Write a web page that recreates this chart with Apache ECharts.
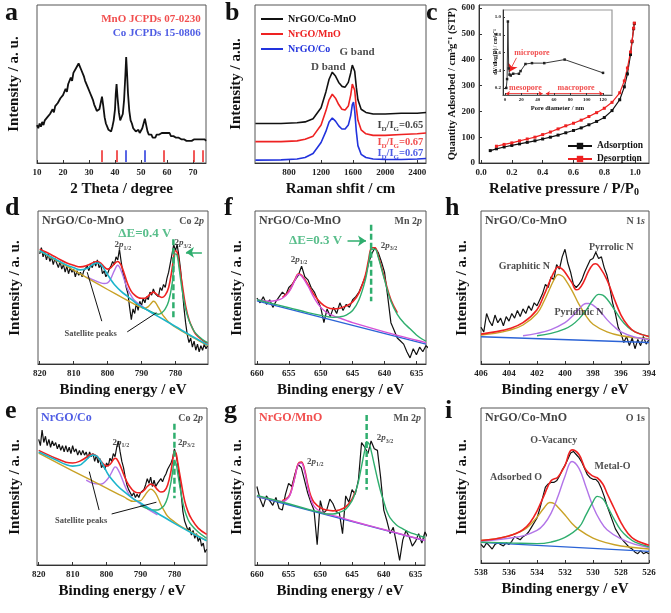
<!DOCTYPE html>
<html><head><meta charset="utf-8">
<script src="https://cdn.jsdelivr.net/npm/echarts@6/dist/echarts.min.js"></script>
<style>html,body{margin:0;padding:0;background:#fff}#c{width:671px;height:613px}</style>
</head><body><div id="c"></div><script>
const F = "'Liberation Serif','Times New Roman',serif";
const RED='#ee2222', BLUE='#2233dd', GREEN='#2fae6e', CYAN='#1db5cc', OLIVE='#c9a227', PURPLE='#b274e8', PINK='#d651d6', BGBLUE='#2b63d6';

// ---------- (a) XRD ----------
const xrdPattern = [[10,24],[10.5,22],[11,25],[11.5,23],[12,26],[12.5,24],[13,27],[13.5,26],[14,29],[14.5,28],[15,31],[15.5,30],[16,34],[16.5,32],[17,36],[17.5,35],[18,38],[18.5,37],[19,41],[19.5,40],[20,43],[20.5,42],[21,47],[21.5,45],[22,50],[22.5,49],[23,54],[23.5,52],[24,57],[24.5,56],[25,60],[25.5,59],[26,63],[26.5,61],[27,59],[27.5,58],[28,55],[28.5,52],[29,51],[29.5,48],[30,47],[30.5,44],[31,42],[31.5,40],[32,37],[32.5,35],[33,33],[33.5,32],[34,34],[34.5,38],[35,42],[35.5,36],[36,29],[36.5,25],[37,23],[37.5,21],[38,22],[38.5,20],[39,23],[39.5,27],[40,34],[40.3,44],[40.6,50],[41,41],[41.5,32],[42,27],[42.5,26],[43,31],[43.5,40],[44,56],[44.3,67],[44.6,58],[45,44],[45.5,33],[46,27],[46.5,25],[47,22],[47.5,21],[48,20],[48.5,19],[49,21],[49.5,19],[50,20],[50.5,22],[51,25],[51.5,28],[52,24],[52.5,20],[53,18],[53.5,17],[54,18],[54.5,16],[55,17],[55.5,16],[56,18],[56.5,17],[57,18],[57.5,17],[58,19],[58.5,18],[59,19],[59.5,18],[60,19],[60.5,18],[61,19],[61.5,17],[62,18],[62.5,17],[63,18],[63.5,16],[64,17],[64.5,16],[65,16],[65.5,15],[66,16],[66.5,15],[67,15],[67.5,14],[68,15],[68.5,14],[69,15],[69.5,14],[70,14],[70.5,15],[71,14],[71.5,15],[72,14],[72.5,15],[73,14],[73.5,15],[74,14],[74.5,15],[75,14]];
const mnoRefPeaks = [35.0, 40.6, 58.7, 70.1, 73.7];
const coRefPeaks = [44.3, 51.6];
const refStickTop = 8;
const xrdTicks = [10,20,30,40,50,60,70];

// ---------- (b) Raman ----------
const ramanCoMnO = [[380,25],[700,25],[900,25.5],[1000,26],[1100,28],[1200,35],[1260,45],[1300,53],[1340,57.5],[1380,55],[1420,51],[1460,48.5],[1500,48],[1540,51],[1570,57],[1590,62],[1605,62.5],[1620,58],[1640,48],[1660,40],[1700,34],[1760,32],[1850,31],[2000,31],[2200,31.5],[2400,31.5],[2510,32]];
const ramanMnO = [[380,13.5],[700,13.5],[900,14],[1000,15],[1100,17],[1200,24],[1260,33],[1300,40],[1340,43.5],[1380,41],[1420,37],[1460,34],[1500,33.5],[1540,36],[1570,43],[1590,50],[1605,51],[1620,46],[1640,35],[1660,27],[1700,21],[1760,18.5],[1850,17.5],[2000,17.5],[2200,18],[2400,18.5],[2510,19]];
const ramanCo = [[380,1.8],[700,2],[900,2.5],[1000,3.5],[1100,6],[1200,13],[1260,20],[1300,26],[1340,28.5],[1380,26.5],[1420,23.5],[1460,21.5],[1500,21.5],[1540,24],[1570,30],[1590,37],[1605,38.5],[1620,33],[1640,20],[1660,11],[1700,5.5],[1760,3.5],[1850,2.5],[2000,2.2],[2200,2.2],[2400,2.5],[2510,2.8]];
const ramanNames = ['NrGO/Co-MnO','NrGO/MnO','NrGO/Co'];
const ramanRatios = ['0.65','0.67','0.67'];
const ramanTicks = [800,1200,1600,2000,2400];

// ---------- (c) BET ----------
const betAdsorption = [[0.06,48],[0.1,55],[0.15,62],[0.2,68],[0.25,74],[0.3,80],[0.35,86],[0.4,93],[0.45,100],[0.5,108],[0.55,117],[0.6,126],[0.65,136],[0.7,148],[0.75,161],[0.8,176],[0.85,203],[0.9,245],[0.93,295],[0.95,345],[0.97,420],[0.98,470],[0.99,520],[0.995,540]];
const betDesorption = [[0.1,65],[0.15,72],[0.2,78],[0.25,86],[0.3,93],[0.35,100],[0.4,110],[0.45,120],[0.5,132],[0.55,144],[0.6,154],[0.65,166],[0.7,180],[0.75,195],[0.8,212],[0.85,235],[0.9,272],[0.93,318],[0.95,368],[0.97,430],[0.98,472],[0.99,522],[0.995,542]];
const poreDist = [[1.5,0.2],[2.5,0.3],[3.5,0.95],[4.5,0.42],[5.5,0.35],[7,0.34],[10,0.36],[17,0.36],[19,0.39],[25,0.47],[33,0.48],[48,0.48],[73,0.52],[120,0.37]];
const betXTicks = [0,0.2,0.4,0.6,0.8,1.0];
const betYTicks = [0,100,200,300,400,500,600];
const poreXTicks = [0,20,40,60,80,100,120];
const poreYTicks = [0.2,0.4,0.6,0.8,1.0];

// ---------- (d) Co 2p, NrGO/Co-MnO ----------
const d_raw = [[820,72],[819.5,76],[819,70],[818.5,73],[818,68],[817.5,72],[817,67],[816.5,70],[816,65],[815.5,69],[815,66],[814.5,63],[814,67],[813.5,62],[813,65],[812.5,60],[812,64],[811.5,59],[811,63],[810.5,60],[810,62],[809.5,57],[809,61],[808.5,58],[808,60],[807.5,57],[807,61],[806.5,60],[806,64],[805.5,61],[805,65],[804.5,63],[804,67],[803.5,64],[803,68],[802.5,63],[802,65],[801.5,59],[801,61],[800.5,57],[800,59],[799.5,62],[799,64],[798.5,67],[798,65],[797.5,70],[797,68],[796.5,75],[796,67],[795.5,60],[795,56],[794.5,50],[794,46],[793.5,37],[793,29],[792.5,36],[792,33],[791.5,40],[791,35],[790.5,41],[790,38],[789.5,43],[789,40],[788.5,44],[788,42],[787.5,47],[787,45],[786.5,49],[786,46],[785.5,47],[785,44],[784.5,50],[784,48],[783.5,52],[783,50],[782.5,56],[782,60],[781.5,66],[781,72],[780.5,78],[780,74],[779.5,78],[779,71],[778.5,62],[778,50],[777.5,37],[777,27],[776.5,19],[776,14],[775.5,17],[775,11],[774.5,15],[774,9],[773.5,13],[773,8],[772.5,12],[772,9],[771.5,13],[771,10],[770.5,12]];
const d_env = [[820,75],[818,73],[815,69.5],[812,66],[810,64.5],[808,63.5],[806,64.5],[804,66.5],[803,67],[802,66],[801,63.5],[800,62],[799,63],[798,65.5],[797,67],[796,64.5],[795,58.5],[794,52],[793,47.5],[792,45],[791,43.5],[790,43],[789,43],[788,44.5],[787,46.5],[786.5,47],[786,46.5],[785,44.5],[784,43.5],[783,45],[782,50],[781,62],[780.5,70],[780,74],[779.5,73],[779,67],[778,52],[777,38],[776,29],[775,23.5],[774,19.5],[772,15.5],[770.5,13.5]];
const d_sat803 = [[820,74],[815,68],[812,64.5],[810,63],[808,61.5],[806,62.5],[805,64],[804,65.5],[803,66],[802,65],[801,62],[800,58.5],[799,55],[798,52],[796,47.5],[794,44],[792,40.5],[790,37.5],[785,31],[780,24.5],[775,18],[770.5,12.5]];
const d_p12 = [[806,57],[804,54.8],[802,53],[801,52.6],[800,53],[799,56],[798,61],[797,64.5],[796,61],[795,54.5],[794,48.5],[793,44.5],[792,41.5],[790,38],[788,35],[786,32.3]];
const d_sat786 = [[820,74],[815,67.5],[810,61.4],[805,55],[800,48.7],[795,42.6],[792,39],[790,37],[789,36.5],[788,37.5],[787,40],[786.5,41],[786,40.5],[785,37],[784,33],[783,30],[782,27.5],[780,24],[775,17.5],[770.5,12]];
const d_p32 = [[790,37],[788,35],[786,33],[785,32.5],[784,33.5],[783,36],[782,41],[781,52],[780.5,63],[780,72],[779.5,71],[779,64],[778,48],[777,36],[776,28.5],[775,23.5],[774,20],[772,16],[770.5,14]];

// ---------- (e) Co 2p, NrGO/Co ----------
const e_raw = [[820,80],[819.5,76],[819,86],[818.5,78],[818,82],[817.5,76],[817,80],[816.5,75],[816,79],[815.5,76],[815,78],[814.5,74],[814,77],[813.5,73],[813,76],[812.5,72],[812,76],[811.5,72],[811,75],[810.5,71],[810,76],[809.5,72],[809,74],[808.5,70],[808,73],[807.5,70],[807,73],[806.5,70],[806,72],[805.5,68],[805,72],[804.5,69],[804,71],[803.5,66],[803,70],[802.5,65],[802,68],[801.5,62],[801,64],[800.5,61],[800,65],[799.5,63],[799,68],[798.5,66],[798,71],[797.5,69],[797,75],[796.5,79],[796,72],[795.5,66],[795,62],[794.5,56],[794,51],[793.5,48],[793,49],[792.5,44],[792,46],[791.5,43],[791,45],[790.5,43],[790,46],[789.5,45],[789,48],[788.5,51],[788,55],[787.5,52],[787,56],[786.5,50],[786,54],[785.5,50],[785,52],[784.5,51],[784,55],[783.5,53],[783,56],[782.5,58],[782,61],[781.5,62],[781,65],[780.5,68],[780,74],[779.5,70],[779,64],[778.5,55],[778,45],[777.5,34],[777,28],[776.5,25],[776,22],[775.5,24],[775,19],[774.5,22],[774,17],[773.5,20],[773,15],[772.5,18],[772,12],[771.5,14],[771,8],[770.5,10]];
const e_env = [[820,73],[815,68],[812,65.5],[810,65],[808,66],[806,68.5],[805,70],[804,70.5],[803,69.5],[802,67],[801,64.5],[800,63],[799,64],[798,67],[797.5,68],[797,67.5],[796,63.5],[795,58],[794,53],[793,49.5],[792,47],[791,46],[790,46],[789,47.5],[788,50],[787,51.5],[786,50.5],[785,48],[784,46.5],[783,47],[782,51],[781,60],[780.5,67],[780,72.5],[779.5,71],[779,65],[778,52.5],[777,41],[776,34],[775,29.5],[773,23.5],[770.5,19.5]];
const e_sat804 = [[820,72],[815,67],[812,64],[810,63],[808,63.5],[806,67],[805,69],[804,70],[803,69.5],[802,67],[801,63.5],[800,59.5],[799,56],[797,51],[795,47],[792,42],[790,39.5],[787,35.5],[785,33],[780,26.5],[775,20.5],[770.5,15.4]];
const e_p12 = [[806,54],[804,52],[802,51.5],[801,52],[800,54],[799,57],[798,61],[797.5,62.5],[797,62],[796,58],[795,52.5],[794,47.5],[793,44],[791,40.5],[789,37.5],[787,34.5],[785,32]];
const e_sat787 = [[820,71.3],[810,60],[800,49],[795,43.5],[792,40.5],[790,41],[789,43.5],[788,46.5],[787,48.3],[786,47],[785,43.5],[784,38.5],[783,34.5],[782,31],[780,27.5],[778,24.5],[775,21],[770.5,15.5]];
const e_p32 = [[790,38],[788,36],[786,35],[785,35],[784,36],[783,38],[782,43],[781,53],[780.5,60],[780,66],[779.5,64.5],[779,58],[778,45],[777,35],[776,29],[775,25.5],[773,21],[770.5,17]];

// ---------- (f) Mn 2p, NrGO/Co-MnO ----------
const f_raw = [[660,43],[659.5,40],[659,44],[658.5,39],[658,42],[657.5,37],[657,41],[656.5,44],[656,47],[655.5,45],[655,50],[654.5,52],[654,55],[653.5,58],[653,64],[652.5,57],[652,55],[651.5,50],[651,47],[650.5,42],[650,37],[649.5,27],[649,36],[648.5,31],[648,37],[647.5,33],[647,40],[646.5,35],[646,39],[645.5,37],[645,42],[644.5,44],[644,47],[643.5,52],[643,57],[642.5,66],[642,72],[641.5,76],[641,73],[640.5,67],[640,60],[639.5,44],[639,27],[638.5,22],[638,17],[637.5,15],[637,13],[636.5,8],[636,4],[635.5,10],[635,6],[634.5,11],[634,8],[633.5,12],[633,10]];
const f_bg = [[660,41.3],[633.5,13]];
const f_env = [[656,43.5],[655,47.5],[654,55.5],[653.5,59],[653,58],[652,52],[651,45],[650,40],[649,37],[648,36],[647,36.5],[646,38],[645,40.5],[644,46.5],[643,58],[642.5,68],[642,76],[641.5,76],[641,71],[640,56],[639,42],[638,33.5]];
const f_p12 = [[660,42],[658,41],[657,41.5],[656,43],[655,47],[654,55],[653.5,58.5],[653,57.5],[652,51],[651,43],[650,37],[649,33.5],[648,31.5],[647,30],[646,28.5],[645,27],[640,21],[635,15.5],[633.5,14]];
const f_p32 = [[660,42],[655,36.8],[652,33.6],[650,31.8],[648,30.5],[647,30.8],[646,32],[645,35],[644,42],[643,55],[642.5,66],[642,75],[641.5,75],[641,70],[640,55],[639,41],[638,32.5],[637,27],[636,23],[635,19],[634,16],[633.5,15]];

// ---------- (g) Mn 2p, NrGO/MnO ----------
const g_raw = [[660,50],[659.5,42],[659,37],[658.5,44],[658,41],[657.5,38],[657,43],[656.5,36],[656,35],[655.5,45],[655,52],[654.5,50],[654,58],[653.5,64],[653,62],[652.5,54],[652,46],[651.5,40],[651,35],[650.5,13],[650,41],[649.5,33],[649,35],[648.5,42],[648,39],[647.5,34],[647,33],[646.5,20],[646,44],[645.5,40],[645,48],[644.5,45],[644,54],[643.5,78],[643,75],[642.5,71],[642,79],[641.5,74],[641,73],[640.5,56],[640,35],[639.5,28],[639,20],[638.5,24],[638,14],[637.5,3],[637,16],[636.5,22],[636,18],[635.5,12],[635,15],[634.5,20],[634,14],[633.5,21],[633,17]];
const g_bg = [[660,43.6],[633.5,15.5]];
const g_env = [[656,41],[655,43.5],[654.5,48.5],[654,56.5],[653.5,64.5],[653,65.5],[652.5,61],[652,51.5],[651.5,44],[651,40],[650,36.5],[649,35],[648,34.5],[647,35],[646,37],[645,42],[644.5,47]];
const g_p12 = [[660,44],[657,41],[656,40.5],[655,43],[654.5,48],[654,56],[653.5,64],[653,65],[652.5,60],[652,50],[651.5,42],[651,37.5],[650,34],[649,32.5],[647,30.5],[645,28],[640,22.6],[635,17.2],[633.5,15.6]];
const g_p32 = [[660,44.3],[655,39],[652,35.5],[650,33.5],[649,32.5],[648,32.5],[647,33.5],[646,35.5],[645,41],[644.5,46],[644,53],[643.5,63],[643,73],[642.7,78.5],[642.3,77],[642,73],[641.5,64],[641,55],[640.5,47],[640,40.5],[639.5,34],[639,30],[638,25.5],[637,23],[636,21],[635,19.5],[633.5,17.5]];

// ---------- (h) N 1s ----------
const h_raw = [[406,24],[405.8,21],[405.6,33],[405.4,28],[405.2,25],[405,32],[404.8,27],[404.6,30],[404.4,25],[404.2,31],[404,28],[403.8,33],[403.6,30],[403.4,35],[403.2,31],[403,36],[402.8,33],[402.6,38],[402.4,35],[402.2,40],[402,38],[401.8,42],[401.6,46],[401.4,52],[401.2,50],[401,57],[400.8,55],[400.6,65],[400.4,62],[400.2,70],[400,75],[399.8,66],[399.6,60],[399.4,52],[399.2,50],[399,52],[398.8,55],[398.6,60],[398.4,64],[398.2,68],[398,69],[397.8,73],[397.6,69],[397.4,70],[397.2,63],[397,58],[396.8,50],[396.6,40],[396.4,33],[396.2,24],[396,20],[395.8,14],[395.6,18],[395.4,12],[395.2,17],[395,10],[394.8,16],[394.6,12],[394.4,18],[394.2,13],[394,16]];
const h_bg = [[406,17.8],[394,14.1]];
const h_env = [[406,19.5],[405,21],[404,23],[403,27],[402,35.5],[401.5,45],[401,56],[400.7,61.5],[400.5,63.5],[400.2,62],[400,60],[399.5,53],[399.2,48.5],[399,49],[398.7,53],[398.3,61],[398,65],[397.8,65.5],[397.5,63],[397,55],[396.5,43],[396,32],[395.5,25],[395,21],[394,18]];
const h_graphitic = [[406,19],[405,20],[404,22],[403,25.5],[402,33],[401.5,41],[401,51],[400.7,56.5],[400.5,58.5],[400.2,57.5],[400,55.5],[399.5,48],[399,39],[398.5,31.5],[398,26],[397,21],[396,18.5],[394,16.5]];
const h_pyridinic = [[403,18.5],[402,20],[401,22.5],[400,27],[399.5,31],[399,36],[398.5,39.5],[398.3,39.5],[398,38.5],[397.5,34.5],[397,29],[396.5,24.5],[396,21],[395,17.5],[394,16]];
const h_pyrrolic = [[402,18.5],[401,20],[400,23],[399.5,25.5],[399,29.5],[398.5,35],[398,42],[397.6,45.5],[397.3,45],[397,42.5],[396.5,36],[396,29],[395.5,24],[395,21],[394,18]];

// ---------- (i) O 1s ----------
const i_raw = [[538,12],[537.8,10],[537.6,13],[537.4,11],[537.2,9],[537,12],[536.8,13],[536.6,12],[536.4,11],[536.2,13],[536,12],[535.8,14],[535.6,17],[535.4,16],[535.2,15],[535,17],[534.8,18],[534.6,20],[534.4,23],[534.2,26],[534,29],[533.8,35],[533.6,42],[533.4,49],[533.2,51],[533,52],[532.8,52],[532.6,53],[532.4,56],[532.2,60],[532,63],[531.8,67],[531.6,71],[531.4,72],[531.2,70],[531,68],[530.8,65],[530.6,61],[530.4,57],[530.2,55],[530,54],[529.8,54],[529.6,52],[529.4,48],[529.2,43],[529,37],[528.8,32],[528.6,27],[528.4,22],[528.2,19],[528,16],[527.8,14],[527.6,12],[527.4,10],[527.2,9],[527,7],[526.8,6],[526.6,8],[526.4,6],[526.2,7],[526,6]];
const i_bg = [[538,13.3],[526,7.5]];
const i_env = [[538,14.5],[537,15.5],[536,17.5],[535.5,19],[535,21.5],[534.5,26],[534,33.5],[533.5,43.5],[533,53],[532.5,55.5],[532,63],[531.5,73],[531,70],[530.5,60],[530,56],[529.7,55],[529.3,51],[529,45],[528.5,35.5],[528,26],[527.5,19],[527,15],[526,11.5]];
const i_adsorbed = [[538,14.5],[537,15.5],[536,17.5],[535,21],[534.5,24.5],[534,29.5],[533.5,35.5],[533.1,39],[532.8,38.5],[532.5,36],[532,31],[531.5,25.5],[531,21.5],[530,16],[529,13],[528,11],[526,9]];
const i_vacancy = [[538,14],[536,16],[535,17.5],[534,21],[533.5,25],[533,32],[532.5,43],[532,56],[531.5,65.5],[531,61],[530.5,49],[530,36.5],[529.5,27.5],[529,21.5],[528,15.5],[527,12],[526,10]];
const i_metal = [[538,13.4],[536,13],[534,12.5],[533,13.5],[532,16.5],[531,23],[530.5,31],[530,39.5],[529.7,43],[529.3,41.5],[529,37],[528.5,28.5],[528,21],[527.5,16.5],[527,13.5],[526,10.5]];

const coTicks = [820,810,800,790,780];
const mnTicks = [660,655,650,645,640,635];
const nTicks = [406,404,402,400,398,396,394];
const oTicks = [538,536,534,532,530,528,526];

// ---------- layout ----------
const P = [
 {g:[37,5,169,158],  x:[10,75],        y:[0,100]},   // 0 a
 {g:[255,5,171,158], x:[375,2510],     y:[0,100]},   // 1 b
 {g:[479,5,170,158], x:[-0.013,1.09],  y:[0,612]},   // 2 c
 {g:[38,211,170,153],x:[820.5,770.4],  y:[0,100]},   // 3 d
 {g:[255,211,171,153],x:[660.3,633.5], y:[0,100]},   // 4 f
 {g:[481,211,168,153],x:[406,394],     y:[0,100]},   // 5 h
 {g:[37,408,170,157],x:[820.5,770.4],  y:[0,100]},   // 6 e
 {g:[255,408,170,157],x:[660.3,633.5], y:[0,100]},   // 7 g
 {g:[481,408,168,155],x:[538,526],     y:[0,100]},   // 8 i
 {g:[503,10,109,85], x:[-2.5,131],     y:[0.12,1.08]} // 9 inset
];
const plain = v => String(v);
const xCfg = [
 {ticks:xrdTicks, name:'2 Theta / degree', fmt:plain},
 {ticks:ramanTicks, name:'Raman shfit / cm', fmt:plain},
 {ticks:betXTicks, name:'Relative pressure / P/P{s|0}', fmt:v=>v.toFixed(1)},
 {ticks:coTicks, name:'Binding energy / eV', fmt:plain},
 {ticks:mnTicks, name:'Binding energy / eV', fmt:plain},
 {ticks:nTicks, name:'Binding energy / eV', fmt:plain},
 {ticks:coTicks, name:'Binding energy / eV', fmt:plain},
 {ticks:mnTicks, name:'Binding energy / eV', fmt:plain},
 {ticks:oTicks, name:'Binding energy / eV', fmt:plain},
 {ticks:poreXTicks, name:'Pore diameter / nm', small:true, fmt:plain}
];

const grids = P.map((p,i)=>({left:p.g[0], top:p.g[1], width:p.g[2], height:p.g[3], show:true,
  borderColor: i===9?'#999':'#555', borderWidth: i===9?1.2:1, backgroundColor: i===9?'#fff':'transparent', z: i===9?5:0}));

const xAxes = P.map((p,i)=>{
  const c = xCfg[i], sm = !!c.small;
  return {gridIndex:i, type:'value', min:Math.min(p.x[0],p.x[1]), max:Math.max(p.x[0],p.x[1]), inverse:p.x[0]>p.x[1],
    name:c.name, nameLocation:'middle', nameGap: sm?10:19,
    nameTextStyle:{fontFamily:F, fontWeight:'bold', fontSize: sm?6.5:15, color:'#111', rich:{s:{fontFamily:F,fontWeight:'bold',fontSize:10,verticalAlign:'bottom',lineHeight:10,color:'#111'}}},
    axisLine:{show:true, onZero:false, lineStyle:{color:sm?'#555':'#333', width:1}},
    axisTick:{show:true, inside:true, length:sm?2:3, customValues:c.ticks, lineStyle:{color:'#333'}},
    axisLabel:{show:true, customValues:c.ticks, fontFamily:F, fontWeight:'bold', fontSize: sm?5:9, color:'#222', margin: sm?2:5, formatter:c.fmt},
    splitLine:{show:false}, z: sm?6:0};
});
const yAxes = P.map((p,i)=>{
  const has = (i===2||i===9), sm = i===9;
  const ticks = i===2?betYTicks:(i===9?poreYTicks:[]);
  return {gridIndex:i, type:'value', min:p.y[0], max:p.y[1],
    axisLine:{show:has, onZero:false, lineStyle:{color:'#333'}},
    axisTick:{show:has, inside:true, length:sm?2:3, customValues:ticks},
    axisLabel:{show:has, customValues:ticks, fontFamily:F, fontWeight:'bold', fontSize: sm?5:9, color:'#222', margin: sm?2:4,
      formatter: sm?(v=>v.toFixed(1)):plain},
    splitLine:{show:false}, z: sm?6:0};
});

const series = [];
function line(gi, data, color, width, extra){
  return Object.assign({type:'line', xAxisIndex:gi, yAxisIndex:gi, data, showSymbol:false, symbol:'none',
    lineStyle:{color, width}, itemStyle:{color}, silent:true, z:2, smooth:false}, extra||{});
}
function rich(s,c){
  return {
    it:{fontStyle:'italic', fontWeight:'bold', fontFamily:F, fontSize:s, color:c, lineHeight:s*1.4},
    sub:{fontSize:Math.round(s*0.7), fontWeight:'bold', fontFamily:F, color:c, verticalAlign:'bottom', lineHeight:s*0.75}
  };
}
function texts(gi, items){
  return {type:'scatter', xAxisIndex:gi, yAxisIndex:gi, symbolSize:1, itemStyle:{color:'rgba(0,0,0,0)'}, silent:true, z:20,
    data: items.map(t=>{const s=t.size||10, c=t.color||'#222';
      return {value:[t.x,t.y], label:{show:true, position:'inside', formatter:t.text, align:t.align||'center', verticalAlign:'middle',
        color:c, fontFamily:F, fontWeight:'bold', fontSize:s, lineHeight:s*1.4, rich:rich(s,c)}};})};
}
function corner(gi, lt, lc, rt, size){
  const p=P[gi], w=p.g[2], h=p.g[3];
  const xl = p.x[0] + (4/w)*(p.x[1]-p.x[0]);
  const xr = p.x[0] + ((w-4)/w)*(p.x[1]-p.x[0]);
  const y = p.y[1] - (10/h)*(p.y[1]-p.y[0]);
  const items = [{x:xl, y, text:lt, color:lc, size:size||12, align:'left'}];
  if (rt) items.push({x:xr, y, text:rt, color:'#222', size:10, align:'right'});
  return texts(gi, items);
}
function vdash(gi, x, y1, y2){
  return line(gi, [[x,y1],[x,y2]], GREEN, 2.5, {lineStyle:{color:GREEN, width:2.5, type:[6,3]}, z:8});
}
function seg(gi, a, b){ return line(gi, [a,b], '#111', 1, {z:8}); }
function arrow(gi, from, to, color, w, both){
  return {type:'line', xAxisIndex:gi, yAxisIndex:gi, data:[from,to], showSymbol:false, symbol:'none', lineStyle:{opacity:0}, silent:true, z:9,
    markLine:{silent:true, animation:false, symbol: both?['arrow','arrow']:['none','arrow'], symbolSize: both?4:8, label:{show:false},
      lineStyle:{color, width:w, type:'solid'}, emphasis:{disabled:true}, data:[[{coord:from},{coord:to}]]}};
}

// (a)
series.push(line(0, xrdPattern, '#111', 1.8, {markLine:{silent:true, animation:false, symbol:'none', label:{show:false}, emphasis:{disabled:true},
  lineStyle:{type:'solid', width:1.5},
  data:[...mnoRefPeaks.map(x=>[{coord:[x,0.6], lineStyle:{color:RED, width:1.5, type:'solid'}},{coord:[x,refStickTop]}]),
        ...coRefPeaks.map(x=>[{coord:[x,0.6], lineStyle:{color:BLUE, width:1.5, type:'solid'}},{coord:[x,refStickTop]}])]}}));
series.push(texts(0, [
  {x:73, y:91, text:'MnO JCPDs 07-0230', color:RED, size:11, align:'right'},
  {x:73, y:82, text:'Co JCPDs 15-0806', color:BLUE, size:11, align:'right'}]));

// (b)
series.push(line(1, ramanCoMnO, '#111', 1.6, {name:ramanNames[0]}));
series.push(line(1, ramanMnO, RED, 1.6, {name:ramanNames[1]}));
series.push(line(1, ramanCo, BLUE, 1.6, {name:ramanNames[2]}));
series.push(texts(1, [
  {x:1290, y:60.5, text:'D band', size:11},
  {x:1650, y:70, text:'G band', size:11},
  {x:2190, y:24, text:'I{sub|D}/I{sub|G}='+ramanRatios[0], size:10.5, color:'#111'},
  {x:2190, y:13, text:'I{sub|D}/I{sub|G}='+ramanRatios[1], size:10.5, color:RED},
  {x:2190, y:6,  text:'I{sub|D}/I{sub|G}='+ramanRatios[2], size:10.5, color:BLUE}]));

// (c)
series.push(line(2, betAdsorption, '#111', 1.2, {name:'Adsorption', showSymbol:true, symbol:'rect', symbolSize:3}));
series.push(line(2, betDesorption, RED, 1.2, {name:'Desorption', showSymbol:true, symbol:'rect', symbolSize:3}));
series.push(line(9, poreDist, '#222', 0.9, {showSymbol:true, symbol:'rect', symbolSize:2.5, z:7}));
series.push(texts(9, [
  {x:33, y:0.6, text:'micropore', color:RED, size:8},
  {x:25, y:0.2, text:'mesopore', color:RED, size:8},
  {x:87, y:0.2, text:'macropore', color:RED, size:8}]));
series.push(arrow(9, [14,0.54], [5,0.38], RED, 0.8, false));
series.push(arrow(9, [1,0.135], [46,0.135], RED, 0.8, true));
series.push(arrow(9, [50,0.135], [120,0.135], RED, 0.8, true));

// (d)
series.push(line(3, d_raw, '#111', 1.2));
series.push(line(3, d_env, RED, 1.6, {smooth:0.4}));
series.push(line(3, d_p12, PURPLE, 1.4, {smooth:0.4}));
series.push(line(3, d_sat786, OLIVE, 1.4, {smooth:0.4}));
series.push(line(3, d_p32, GREEN, 1.4, {smooth:0.4}));
series.push(line(3, d_sat803, CYAN, 1.6, {smooth:0.4}));
series.push(vdash(3, 780.6, 81.5, 30));
series.push(arrow(3, [772.2,73], [776.9,73], GREEN, 1.5, false));
series.push(seg(3, [801.7,28], [806,60]));
series.push(seg(3, [794.2,21], [785.6,33.5]));
series.push(corner(3, 'NrGO/Co-MnO', '#111', 'Co 2{it|p}'));
series.push(texts(3, [
  {x:789, y:85, text:'ΔE=0.4 V', color:GREEN, size:13},
  {x:795.5, y:78, text:'2{it|p}{sub|1/2}', size:9},
  {x:777.8, y:79, text:'2{it|p}{sub|3/2}', size:9},
  {x:805, y:20, text:'Satellite peaks', size:8.5}]));

// (e)
series.push(line(6, e_raw, '#111', 1.2));
series.push(line(6, e_env, RED, 1.6, {smooth:0.4}));
series.push(line(6, e_p12, PURPLE, 1.4, {smooth:0.4}));
series.push(line(6, e_sat787, OLIVE, 1.4, {smooth:0.4}));
series.push(line(6, e_p32, GREEN, 1.4, {smooth:0.4}));
series.push(line(6, e_sat804, CYAN, 1.6, {smooth:0.4}));
series.push(vdash(6, 780, 90, 42.5));
series.push(seg(6, [802.2,35], [805.1,59.5]));
series.push(seg(6, [798.5,32.5], [785.3,40]));
series.push(corner(6, 'NrGO/Co', BLUE, 'Co 2{it|p}'));
series.push(texts(6, [
  {x:795.8, y:78, text:'2{it|p}{sub|1/2}', size:9},
  {x:776.5, y:78, text:'2{it|p}{sub|3/2}', size:9},
  {x:807.5, y:28, text:'Satellite peaks', size:8.5}]));

// (f)
series.push(line(4, f_raw, '#111', 1.2));
series.push(line(4, f_env, RED, 1.6, {smooth:0.4}));
series.push(line(4, f_bg, BGBLUE, 1.4));
series.push(line(4, f_p12, PINK, 1.4, {smooth:0.4}));
series.push(line(4, f_p32, GREEN, 1.4, {smooth:0.4}));
series.push(vdash(4, 642.1, 91, 41));
series.push(arrow(4, [645.8,80.5], [642.9,80.5], GREEN, 1.5, false));
series.push(corner(4, 'NrGO/Co-MnO', '#111', 'Mn 2{it|p}'));
series.push(texts(4, [
  {x:650.8, y:80.5, text:'ΔE=0.3 V', color:GREEN, size:13},
  {x:653.4, y:68.5, text:'2{it|p}{sub|1/2}', size:9},
  {x:639.3, y:77.5, text:'2{it|p}{sub|3/2}', size:9}]));

// (g)
series.push(line(7, g_raw, '#111', 1.2));
series.push(line(7, g_env, RED, 1.6, {smooth:0.4}));
series.push(line(7, g_bg, BGBLUE, 1.4));
series.push(line(7, g_p12, PINK, 1.4, {smooth:0.4}));
series.push(line(7, g_p32, GREEN, 1.4, {smooth:0.4}));
series.push(vdash(7, 642.7, 95.5, 48));
series.push(corner(7, 'NrGO/MnO', RED, 'Mn 2{it|p}'));
series.push(texts(7, [
  {x:650.8, y:66, text:'2{it|p}{sub|1/2}', size:9},
  {x:639.8, y:81, text:'2{it|p}{sub|3/2}', size:9}]));

// (h)
series.push(line(5, h_raw, '#111', 1.2));
series.push(line(5, h_bg, BGBLUE, 1.4));
series.push(line(5, h_graphitic, OLIVE, 1.4, {smooth:0.4}));
series.push(line(5, h_pyridinic, PURPLE, 1.4, {smooth:0.4}));
series.push(line(5, h_pyrrolic, GREEN, 1.4, {smooth:0.4}));
series.push(line(5, h_env, RED, 1.6, {smooth:0.4}));
series.push(corner(5, 'NrGO/Co-MnO', '#111', 'N 1{it|s}'));
series.push(texts(5, [
  {x:402.9, y:63.5, text:'Graphitic N', size:10},
  {x:396.7, y:76, text:'Pyrrolic N', size:10},
  {x:399, y:34, text:'Pyridinic N', size:10}]));

// (i)
series.push(line(8, i_raw, '#111', 1.2));
series.push(line(8, i_bg, BGBLUE, 1.4));
series.push(line(8, i_adsorbed, OLIVE, 1.4, {smooth:0.4}));
series.push(line(8, i_vacancy, PURPLE, 1.4, {smooth:0.4}));
series.push(line(8, i_metal, GREEN, 1.4, {smooth:0.4}));
series.push(line(8, i_env, RED, 1.6, {smooth:0.4}));
series.push(corner(8, 'NrGO/Co-MnO', '#111', 'O 1s'));
series.push(texts(8, [
  {x:532.8, y:79, text:'O-Vacancy', size:10},
  {x:535.5, y:55, text:'Adsorbed O', size:10},
  {x:528.6, y:62.5, text:'Metal-O', size:10}]));

// panel letters & y titles
const letters = [['a',5,26],['b',225,26],['c',426,26],['d',5,221],['f',224,221],['h',445,221],['e',5,424],['g',224,424],['i',445,424]];
const yTitles = [
  [14,84,'Intensity / a. u.',15],[236,84,'Intensity / a.u.',15],[452,84,'Quantity Adsorbed / cm³g⁻¹ (STP)',10.5],
  [15,288,'Intensity / a. u.',15],[237,288,'Intensity / a. u.',15],[462,288,'Intensity / a. u.',15],
  [15,487,'Intensity / a. u.',15],[237,487,'Intensity / a. u.',15],[462,487,'Intensity / a. u.',15],
  [496,52,'dV/dlog(D) / cm³g⁻¹',5.5]];
const graphic = [
  ...letters.map(([t,x,y])=>({type:'text', x, y, silent:true, style:{text:t, fill:'#111', font:`bold 26px ${F}`, align:'left', verticalAlign:'bottom'}})),
  ...yTitles.map(([x,y,t,s])=>({type:'text', x, y, rotation:Math.PI/2, silent:true, z:10, style:{text:t, fill:'#111', font:`bold ${s}px ${F}`, align:'center', verticalAlign:'middle'}}))
];

const chart = echarts.init(document.getElementById('c'), null, {renderer:'canvas'});
chart.setOption({
  animation:false, backgroundColor:'#fff',
  textStyle:{fontFamily:F},
  grid:grids, xAxis:xAxes, yAxis:yAxes, series, graphic,
  legend:[
    {left:256, top:9, orient:'vertical', itemGap:5, itemWidth:22, itemHeight:2, icon:'rect', selectedMode:false,
     textStyle:{fontFamily:F, fontWeight:'bold', fontSize:10},
     data:[{name:ramanNames[0], textStyle:{color:'#111'}},{name:ramanNames[1], textStyle:{color:RED}},{name:ramanNames[2], textStyle:{color:BLUE}}]},
    {left:562, top:136, orient:'vertical', itemGap:3, itemWidth:24, itemHeight:8, selectedMode:false,
     textStyle:{fontFamily:F, fontWeight:'bold', fontSize:9.5, color:'#111'}, data:['Adsorption','Desorption']}
  ]
});
</script></body></html>
